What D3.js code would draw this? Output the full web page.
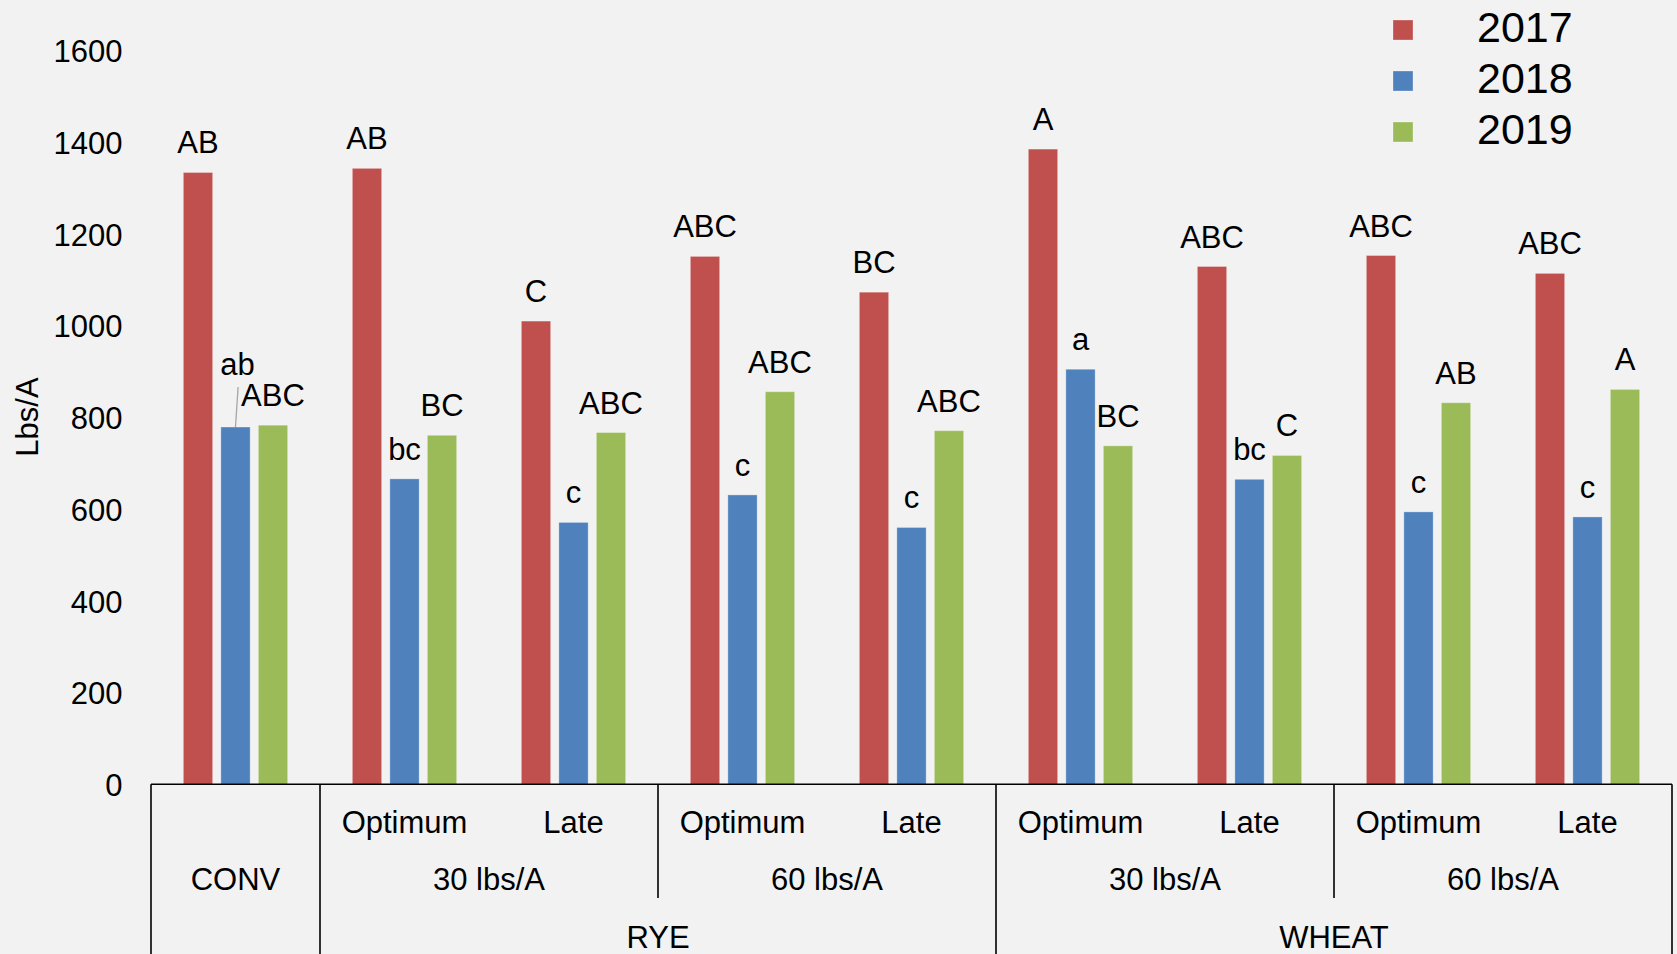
<!DOCTYPE html>
<html>
<head>
<meta charset="utf-8">
<script src="https://cdn.jsdelivr.net/npm/d3@7"></script>
<style>
  html, body { margin: 0; padding: 0; background: #f2f2f2; }
  svg { display: block; font-family: Arial, "Liberation Sans", sans-serif; }
</style>
</head>
<body>
<svg id="chart" width="1677" height="954"></svg>
<script>
// Treatments along the x axis (crop / seeding rate / planting time)
const crops = ["CONV", "RYE", "WHEAT"];
const rates = ["", "30 lbs/A", "60 lbs/A", "30 lbs/A", "60 lbs/A"];
const timings = ["", "Optimum", "Late", "Optimum", "Late", "Optimum", "Late", "Optimum", "Late"];
const treatmentCrop = ["CONV", "RYE", "RYE", "RYE", "RYE", "WHEAT", "WHEAT", "WHEAT", "WHEAT"];
const treatmentRate = [0, 1, 1, 2, 2, 3, 3, 4, 4];

// Yield (Lbs/A) per year
const years = ["2017", "2018", "2019"];
const yield2017 = [1334, 1343, 1010, 1151, 1073, 1385, 1129, 1153, 1114];
const yield2018 = [779, 666, 571, 631, 560, 905, 665, 594, 583];
const yield2019 = [783, 761, 767, 856, 771, 738, 717, 832, 861];

// Mean separation letters per year
const letters2017 = ["AB", "AB", "C", "ABC", "BC", "A", "ABC", "ABC", "ABC"];
const letters2018 = ["ab", "bc", "c", "c", "c", "a", "bc", "c", "c"];
const letters2019 = ["ABC", "BC", "ABC", "ABC", "ABC", "BC", "C", "AB", "A"];

const yTicks = [0, 200, 400, 600, 800, 1000, 1200, 1400, 1600];

const colors = ["#c0504d", "#4f81bd", "#9bbb59"];
const seriesValues = [yield2017, yield2018, yield2019];
const seriesLetters = [letters2017, letters2018, letters2019];

const svg = d3.select("#chart");
const left = 151, right = 1672, baseY = 784.3, topY = 50.5;

const y = d3.scaleLinear().domain([0, 1600]).range([baseY, topY]);
const x0 = d3.scaleBand().domain(d3.range(timings.length)).range([left, right]).padding(0);
const x1 = d3.scaleBand().domain(d3.range(years.length)).range([0, x0.bandwidth()])
  .paddingInner(0.219).paddingOuter(0.863);

// y axis labels (no line, no ticks)
const yAxis = d3.axisLeft(y).tickValues(yTicks).tickSize(0).tickPadding(0).tickFormat(d3.format("d"));
const yg = svg.append("g").attr("transform", `translate(122.5,0)`).call(yAxis);
yg.select(".domain").remove();
yg.selectAll("text")
  .attr("font-size", 31).attr("fill", "#000").attr("font-family", "Arial, 'Liberation Sans', sans-serif")
  .attr("dy", "0.36em");

svg.append("text")
  .attr("transform", `translate(38,417) rotate(-90)`)
  .attr("text-anchor", "middle")
  .attr("font-size", 31)
  .text("Lbs/A");

// bars
const rows = [];
timings.forEach((t, i) => {
  years.forEach((yr, s) => {
    rows.push({ i, s, value: seriesValues[s][i], label: seriesLetters[s][i] });
  });
});

svg.append("g").selectAll("rect").data(rows).join("rect")
  .attr("x", d => x0(d.i) + x1(d.s))
  .attr("width", x1.bandwidth())
  .attr("y", d => y(d.value))
  .attr("height", d => y(0) - y(d.value))
  .attr("fill", d => colors[d.s])
  .attr("stroke", "rgba(255,255,255,0.3)")
  .attr("stroke-width", 1);

// letter labels above bars; the 2018 CONV label is pulled up with a leader line
const callout = { i: 0, s: 1, dx: 2, dy: -33 };
const labelGap = 19;
const labels = svg.append("g").attr("font-size", 31).attr("text-anchor", "middle");
rows.forEach(d => {
  const cx = x0(d.i) + x1(d.s) + x1.bandwidth() / 2;
  let ly = y(d.value) - labelGap;
  let lx = cx;
  if (d.i === callout.i && d.s === callout.s) {
    lx += callout.dx; ly += callout.dy;
    svg.append("line")
      .attr("x1", cx).attr("y1", y(d.value))
      .attr("x2", cx + 2.6).attr("y2", y(d.value) - 40)
      .attr("stroke", "#a6a6a6").attr("stroke-width", 1.3);
  }
  labels.append("text").attr("x", lx).attr("y", ly).text(d.label);
});

// category axis: baseline and multi-level separators
const axis = svg.append("g").attr("stroke", "#000").attr("stroke-width", 1.6);
axis.append("line").attr("x1", left).attr("x2", right).attr("y1", baseY).attr("y2", baseY);
const bandEdge = i => x0(i);
// full height separators between crops and at both ends
[0, 1, 5, 9].forEach(i => {
  const xx = i === 9 ? right : bandEdge(i);
  axis.append("line").attr("x1", xx).attr("x2", xx).attr("y1", baseY).attr("y2", 960);
});
// separators between seeding rates inside a crop
[3, 7].forEach(i => {
  axis.append("line").attr("x1", bandEdge(i)).attr("x2", bandEdge(i)).attr("y1", baseY).attr("y2", 898);
});

const catText = svg.append("g").attr("font-size", 31).attr("text-anchor", "middle").attr("fill", "#000");
timings.forEach((t, i) => {
  if (!t) return;
  catText.append("text").attr("x", x0(i) + x0.bandwidth() / 2).attr("y", 833).text(t);
});
// rate labels span their two timing bands
rates.forEach((r, k) => {
  const idx = treatmentRate.map((v, i) => v === k ? i : -1).filter(i => i >= 0);
  const label = k === 0 ? crops[0] : r;
  const x = (x0(idx[0]) + x0(idx[idx.length - 1]) + x0.bandwidth()) / 2;
  catText.append("text").attr("x", x).attr("y", 890).text(label);
});
crops.slice(1).forEach(c => {
  const idx = treatmentCrop.map((v, i) => v === c ? i : -1).filter(i => i >= 0);
  const x = (x0(idx[0]) + x0(idx[idx.length - 1]) + x0.bandwidth()) / 2;
  catText.append("text").attr("x", x).attr("y", 948).text(c);
});

// legend
const legend = svg.append("g");
years.forEach((yr, s) => {
  const cy = 30 + s * 51;
  legend.append("rect").attr("x", 1393).attr("y", cy - 10).attr("width", 20).attr("height", 20)
    .attr("fill", colors[s]).attr("stroke", "rgba(255,255,255,0.3)");
  legend.append("text").attr("x", 1477).attr("y", cy + 11.7).attr("font-size", 43).text(yr);
});
</script>
</body>
</html>
